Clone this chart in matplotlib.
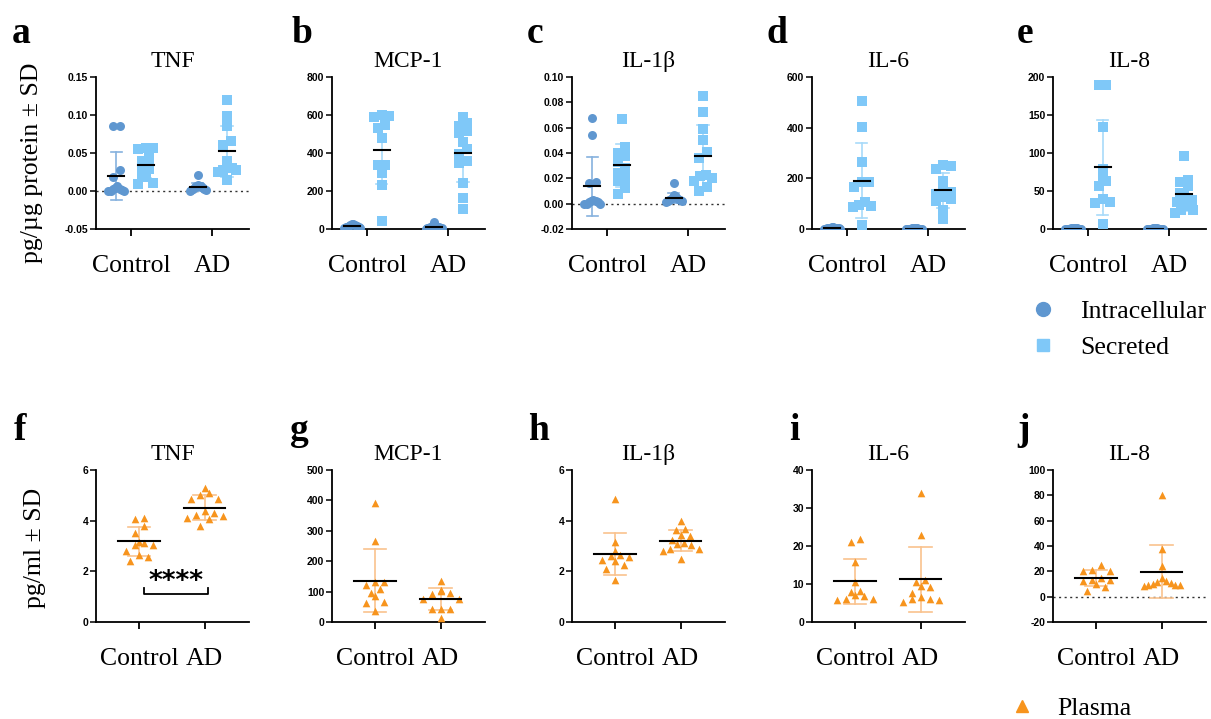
import numpy as np
import matplotlib
matplotlib.use('Agg')
import matplotlib.pyplot as plt
from matplotlib.lines import Line2D

plt.rcParams['font.family'] = ['Liberation Serif', 'DejaVu Serif']

groups = ['Control', 'AD']

# top row: intracellular / secreted (pg/ug protein)
tnf_ctrl_in = [0.085, 0.085, 0.028, 0.019, 0.006, 0.004, 0.003, 0.002, 0.001, 0.0, 0.0, 0.0]
tnf_ctrl_se = [0.057, 0.056, 0.055, 0.048, 0.040, 0.039, 0.030, 0.029, 0.018, 0.020, 0.010, 0.009]
tnf_ad_in = [0.021, 0.008, 0.007, 0.006, 0.006, 0.005, 0.004, 0.003, 0.002, 0.001, 0.001, 0.0]
tnf_ad_se = [0.120, 0.099, 0.085, 0.066, 0.061, 0.040, 0.032, 0.030, 0.028, 0.027, 0.025, 0.014]

mcp_ctrl_in = [28, 25, 22, 20, 18, 15, 15, 12, 10, 8, 5, 3]
mcp_ctrl_se = [590, 598, 595, 534, 545, 479, 339, 339, 294, 232, 40]
mcp_ad_in = [35, 20, 15, 12, 10, 10, 8, 6, 5, 5, 3, 2]
mcp_ad_se = [592, 558, 540, 515, 503, 460, 420, 395, 360, 345, 240, 165, 105]

il1_ctrl_in = [0.068, 0.054, 0.017, 0.016, 0.003, 0.002, 0.002, 0.001, 0.001, 0.0, 0.0, 0.0]
il1_ctrl_se = [0.067, 0.045, 0.040, 0.038, 0.033, 0.028, 0.024, 0.020, 0.018, 0.012, 0.008]
il1_ad_in = [0.016, 0.007, 0.006, 0.005, 0.005, 0.004, 0.004, 0.003, 0.003, 0.002, 0.002, 0.001]
il1_ad_se = [0.085, 0.072, 0.059, 0.050, 0.041, 0.036, 0.023, 0.022, 0.020, 0.018, 0.013, 0.010]

il6_ctrl_in = [8, 6, 5, 5, 4, 3, 3, 2, 2, 1, 1, 0]
il6_ctrl_se = [507, 402, 265, 186, 184, 164, 105, 95, 90, 86, 17]
il6_ad_in = [3, 3, 2, 2, 2, 1, 1, 1, 1, 0, 0, 0]
il6_ad_se = [254, 250, 237, 188, 150, 145, 140, 126, 118, 109, 74, 41]

il8_ctrl_in = [1.2, 1.0, 0.9, 0.8, 0.7, 0.6, 0.5, 0.5, 0.4, 0.3, 0.2, 0.1]
il8_ctrl_se = [189, 189, 134, 79, 68, 63, 57, 39, 36, 34, 6]
il8_ad_in = [1.0, 0.9, 0.8, 0.7, 0.6, 0.5, 0.5, 0.4, 0.3, 0.2, 0.1, 0.1]
il8_ad_se = [96, 64, 62, 57, 48, 43, 38, 36, 30, 25, 25, 21]

# bottom row: plasma (pg/ml)
p_tnf_ctrl = [4.1, 4.05, 3.78, 3.5, 3.15, 3.1, 3.05, 3.03, 2.8, 2.65, 2.55, 2.4]
p_tnf_ad = [5.3, 5.1, 5.0, 4.85, 4.85, 4.38, 4.3, 4.22, 4.18, 4.12, 4.05, 3.8]
p_mcp_ctrl = [391, 265, 133, 130, 122, 108, 95, 84, 66, 64, 35]
p_mcp_ad = [136, 104, 101, 97, 92, 77, 77, 44, 43, 43, 12]
p_il1_ctrl = [4.85, 3.15, 2.8, 2.65, 2.62, 2.55, 2.45, 2.4, 2.26, 2.1, 1.67]
p_il1_ad = [4.0, 3.66, 3.64, 3.44, 3.41, 3.24, 3.1, 3.06, 3.04, 2.9, 2.9, 2.82, 2.47]
p_il6_ctrl = [21.8, 21.0, 15.9, 10.6, 8.1, 8.0, 7.2, 6.9, 6.1, 6.0, 5.7]
p_il6_ad = [34.0, 22.9, 11.1, 10.4, 9.4, 9.3, 7.6, 6.5, 6.1, 6.0, 5.9, 5.2]
p_il8_ctrl = [25.0, 21.0, 20.5, 20.0, 14.5, 13.5, 13.0, 12.0, 10.0, 7.5, 4.5]
p_il8_ad = [80, 37.5, 24, 15, 12.5, 11.5, 10.8, 10, 9.4, 9.4, 8.9, 8.7]

top_titles = ['TNF', 'MCP-1', 'IL-1β', 'IL-6', 'IL-8']
bot_titles = ['TNF', 'MCP-1', 'IL-1β', 'IL-6', 'IL-8']
top_letters = ['a', 'b', 'c', 'd', 'e']
bot_letters = ['f', 'g', 'h', 'i', 'j']

top_data = [
    (tnf_ctrl_in, tnf_ctrl_se, tnf_ad_in, tnf_ad_se),
    (mcp_ctrl_in, mcp_ctrl_se, mcp_ad_in, mcp_ad_se),
    (il1_ctrl_in, il1_ctrl_se, il1_ad_in, il1_ad_se),
    (il6_ctrl_in, il6_ctrl_se, il6_ad_in, il6_ad_se),
    (il8_ctrl_in, il8_ctrl_se, il8_ad_in, il8_ad_se),
]
bot_data = [
    (p_tnf_ctrl, p_tnf_ad),
    (p_mcp_ctrl, p_mcp_ad),
    (p_il1_ctrl, p_il1_ad),
    (p_il6_ctrl, p_il6_ad),
    (p_il8_ctrl, p_il8_ad),
]

top_ylims = [(-0.05, 0.15), (0, 800), (-0.02, 0.10), (0, 600), (0, 200)]
top_steps = [0.05, 200, 0.02, 200, 50]
bot_ylims = [(0, 6), (0, 500), (0, 6), (0, 40), (-20, 100)]
bot_steps = [2, 100, 2, 10, 20]

C_IN = '#5f97d0'
C_SE = '#7fc8f8'
C_PL = '#f7941d'

W, H = 1211, 719
fig = plt.figure(figsize=(W / 100, H / 100), dpi=100)

lefts = [96, 332, 572, 812, 1053]
ax_w, ax_h = 153, 152
top_y, bot_y = 77, 470
letter_x = [12, 292, 527, 767, 1017]
letter_x_bot = [14, 290, 528, 789, 1017]

tick_font = {'family': 'Liberation Sans', 'weight': 'bold', 'size': 7.5}


def swarm(vals, px_x, px_y, rowh, step, maxw):
    # group points into horizontal rows, then centre each row (GraphPad-like)
    vals = np.asarray(vals, dtype=float)
    order = np.argsort(vals)
    offs = np.zeros(len(vals))
    rows = []
    for i in order:
        if rows and (vals[i] - vals[rows[-1][0]]) * px_y < rowh:
            rows[-1].append(i)
        else:
            rows.append([i])
    for r in rows:
        n = len(r)
        sp = step if n < 2 else min(step, 2 * maxw / (n - 1))
        pos = (np.arange(n) - (n - 1) / 2) * sp
        # lowest points go to the outside, alternating left / right
        for j, i in enumerate(r):
            slot = j // 2 if j % 2 == 0 else n - 1 - j // 2
            offs[i] = pos[slot]
    return offs / px_x


def style_axis(ax, ylim, step, xlim):
    for s in ['top', 'right']:
        ax.spines[s].set_visible(False)
    for s in ['left', 'bottom']:
        ax.spines[s].set_linewidth(1.3)
    ax.set_xlim(*xlim)
    ax.set_ylim(*ylim)
    ax.set_yticks(np.arange(ylim[0], ylim[1] + step / 2, step))
    if step < 1:
        ax.set_yticklabels(['%.2f' % t for t in ax.get_yticks()])
    else:
        ax.set_yticklabels(['%d' % t for t in ax.get_yticks()])
    for lab in ax.get_yticklabels():
        lab.set_fontproperties(tick_font)
    ax.set_xticks([0, 1])
    ax.set_xticklabels(groups, fontsize=18.5)
    ax.tick_params(axis='x', length=5, width=1.3, pad=14)
    ax.tick_params(axis='y', length=4, width=1.1, pad=1.5)
    if ylim[0] < 0:
        ax.axhline(0, color='#333333', lw=1, ls=(0, (1.5, 2.5)), zorder=1)


def draw_group(ax, x, vals, color, marker, size, px_x, px_y, rowh, step, maxw,
               mean_w, cap_w, bar_color):
    v = np.asarray(vals, dtype=float)
    m, sd = v.mean(), v.std(ddof=1)
    ax.plot([x, x], [m - sd, m + sd], color=bar_color, lw=1.2, zorder=2)
    ax.plot([x - cap_w, x + cap_w], [m + sd] * 2, color=bar_color, lw=1.2, zorder=2)
    ax.plot([x - cap_w, x + cap_w], [m - sd] * 2, color=bar_color, lw=1.2, zorder=2)
    xs = x + swarm(v, px_x, px_y, rowh, step, maxw)
    ax.scatter(xs, v, s=size, marker=marker, color=color, lw=0, zorder=3)
    ax.plot([x - mean_w, x + mean_w], [m, m], color='black', lw=1.5, zorder=4)


# top row
top_xlim = (-0.43, 1.45)
for k in range(5):
    ax = fig.add_axes([lefts[k] / W, 1 - (top_y + ax_h) / H, ax_w / W, ax_h / H])
    style_axis(ax, top_ylims[k], top_steps[k], top_xlim)
    px_x = ax_w / (top_xlim[1] - top_xlim[0])
    px_y = ax_h / (top_ylims[k][1] - top_ylims[k][0])
    c_in, c_se, a_in, a_se = top_data[k]
    for gx, vin, vse in [(0, c_in, c_se), (1, a_in, a_se)]:
        draw_group(ax, gx - 0.18, vin, C_IN, 'o', 42, px_x, px_y, 7, 7, 8,
                   0.1, 0.07, '#86b2de')
        draw_group(ax, gx + 0.18, vse, C_SE, 's', 42, px_x, px_y, 7, 7.5, 9,
                   0.1, 0.07, '#a8daf9')
    ax.set_title(top_titles[k], fontsize=17, pad=7)
    fig.text(letter_x[k] / W, 1 - 43 / H, top_letters[k], fontsize=27,
             fontweight='bold', ha='left', va='baseline')

# bottom row
bot_xlim = (-0.66, 1.68)
for k in range(5):
    ax = fig.add_axes([lefts[k] / W, 1 - (bot_y + ax_h) / H, ax_w / W, ax_h / H])
    style_axis(ax, bot_ylims[k], bot_steps[k], bot_xlim)
    px_x = ax_w / (bot_xlim[1] - bot_xlim[0])
    px_y = ax_h / (bot_ylims[k][1] - bot_ylims[k][0])
    for gx, vals in enumerate(bot_data[k]):
        draw_group(ax, gx, vals, C_PL, '^', 30, px_x, px_y, 8, 9, 18,
                   0.32, 0.17, '#f9c28e')
    ax.set_title(bot_titles[k], fontsize=17, pad=7)
    fig.text(letter_x_bot[k] / W, 1 - 440 / H, bot_letters[k], fontsize=27,
             fontweight='bold', ha='left', va='baseline')
    if k == 0:
        # significance bracket
        ax.plot([0.08, 0.08, 1.05, 1.05], [1.36, 1.1, 1.1, 1.36], color='black', lw=1.3)
        ax.text(0.565, 1.3, '****', ha='center', va='baseline', fontsize=19,
                fontweight='bold', family='DejaVu Sans')

fig.text(32 / W, 1 - 163 / H, 'pg/µg protein ± SD', rotation=90, fontsize=18.5,
         ha='center', va='center')
fig.text(35 / W, 1 - 548 / H, 'pg/ml ± SD', rotation=90, fontsize=18.5,
         ha='center', va='center')

h_top = [Line2D([], [], ls='', marker='o', ms=10, color=C_IN),
         Line2D([], [], ls='', marker='s', ms=9, color=C_SE)]
fig.legend(h_top, ['Intracellular', 'Secreted'], loc='upper left',
           bbox_to_anchor=(1030 / W, 1 - 300 / H), frameon=False, fontsize=18.5,
           handlelength=1, handletextpad=0.95, labelspacing=0.5,
           borderpad=0, borderaxespad=0)
h_bot = [Line2D([], [], ls='', marker='^', ms=8, color=C_PL)]
fig.legend(h_bot, ['Plasma'], loc='upper left',
           bbox_to_anchor=(1009 / W, 1 - 697 / H), frameon=False, fontsize=18.5,
           handlelength=1, handletextpad=0.87, borderpad=0, borderaxespad=0)

fig.savefig('out.png', dpi=100)
